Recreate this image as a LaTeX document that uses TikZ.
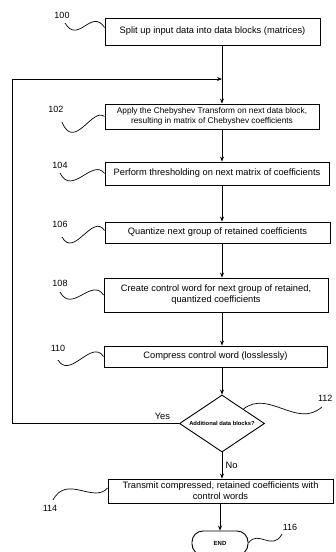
\documentclass[tikz,border=0pt]{standalone}
\usepackage{fontspec}
\setmainfont{Liberation Sans}
\usetikzlibrary{shapes.geometric,arrows.meta}

\begin{document}
\begin{tikzpicture}[x=1pt,y=-1pt,
	box/.style={draw, line width=.9pt, align=center, inner sep=1pt, font=\fontsize{9.3}{11}\selectfont},
	arr/.style={line width=.8pt, -{Stealth[length=5pt,width=4pt]}},
	lead/.style={line width=.7pt},
	num/.style={font=\fontsize{9}{10}\selectfont}]
	\useasboundingbox[fill=white] (0,0) rectangle (336,552);
	
	\node[box, minimum width=215pt, minimum height=27pt] (s100) at (212.5,31.5) {Split up input data into data blocks (matrices)};
	\node[box, minimum width=214pt, minimum height=25pt, font=\fontsize{8.3}{9.8}\selectfont] (s102) at (212,116.5) {Apply the Chebyshev Transform on next data block,\\ resulting in matrix of Chebyshev coefficients};
	\node[box, minimum width=224pt, minimum height=23pt] (s104) at (217,173.5) {Perform thresholding on next matrix of coefficients};
	\node[box, minimum width=225pt, minimum height=21pt] (s106) at (217.5,232.5) {Quantize next group of retained coefficients};
	\node[box, minimum width=224pt, minimum height=34pt] (s108) at (216,295) {Create control word for next group of retained,\\ quantized coefficients};
	\node[box, minimum width=223pt, minimum height=21pt] (s110) at (215.5,356.5) {Compress control word (losslessly)};
	\node[draw, line width=.9pt, diamond, aspect=1.5, inner sep=0pt, minimum width=85pt, minimum height=57pt, font=\fontsize{5.8}{7}\selectfont\bfseries] (d112) at (222,423.5) {Additional data blocks?};
	\node[box, minimum width=225pt, minimum height=24pt] (s114) at (220.5,491) {Transmit compressed, retained coefficients with\\ control words};
	\node[draw, line width=.9pt, rounded corners=11pt, minimum width=56pt, minimum height=24pt, font=\fontsize{6}{7}\selectfont\bfseries] (e116) at (220,543) {END};
	
	% flow
	\coordinate (spine) at (222,0);
	\coordinate (loop) at (12,79);
	\draw[arr] (s100.south -| spine) -- (s102.north -| spine);
	\draw[arr] (s102.south -| spine) -- (s104.north -| spine);
	\draw[arr] (s104.south -| spine) -- (s106.north -| spine);
	\draw[arr] (s106.south -| spine) -- (s108.north -| spine);
	\draw[arr] (s108.south -| spine) -- (s110.north -| spine);
	\draw[arr] (s110.south -| spine) -- (d112.north);
	\draw[arr] (d112.south) -- node[right, font=\fontsize{9.3}{11}\selectfont] {No} (s114.north -| spine);
	\draw[arr] (s114.south -| e116) -- (e116.north);
	\draw[arr] (d112.west) -- node[pos=.1, above, font=\fontsize{9.3}{11}\selectfont] {Yes} (d112.west -| loop) -- (loop) -- (loop -| spine);
	
	% reference numerals
	\coordinate (t100) at (65,23);
	\coordinate (t102) at (62,122);
	\coordinate (t104) at (60,173);
	\coordinate (t106) at (62,237);
	\coordinate (t108) at (60,292);
	\coordinate (t110) at (58,360);
	\coordinate (t112) at (322,407);
	\coordinate (t114) at (53,500);
	\coordinate (t116) at (282,534);
	\draw[lead] (t100) .. controls +(13,22) and +(-13,-20) .. ([yshift=4pt]s100.west);
	\draw[lead] (t102) .. controls +(12,30) and +(-12,-10) .. (s102.west);
	\draw[lead] (t104) .. controls +(12,24) and +(-12,-16) .. (s104.west);
	\draw[lead] (t106) .. controls +(12,22) and +(-12,-18) .. ([yshift=2pt]s106.west);
	\draw[lead] (t108) .. controls +(12,22) and +(-12,-18) .. (s108.west);
	\draw[lead] (t110) .. controls +(12,20) and +(-12,-18) .. (s110.west);
	\draw[lead] (d112.north east) .. controls +(25,-20) and +(-25,22) .. (t112);
	\draw[lead] (t114) .. controls +(14,-26) and +(-14,16) .. ([yshift=3pt]s114.west);
	\draw[lead] (e116.east) .. controls +(10,-14) and +(-10,18) .. (t116);
	\node[num] at (62,15) {100};
	\node[num] at (56,109) {102};
	\node[num] at (60,165) {104};
	\node[num] at (60,224) {106};
	\node[num] at (60,283) {108};
	\node[num] at (58,348) {110};
	\node[num, anchor=east] at (336,398) {112};
	\node[num] at (50,508) {114};
	\node[num] at (290,527) {116};
\end{tikzpicture}
\end{document}
